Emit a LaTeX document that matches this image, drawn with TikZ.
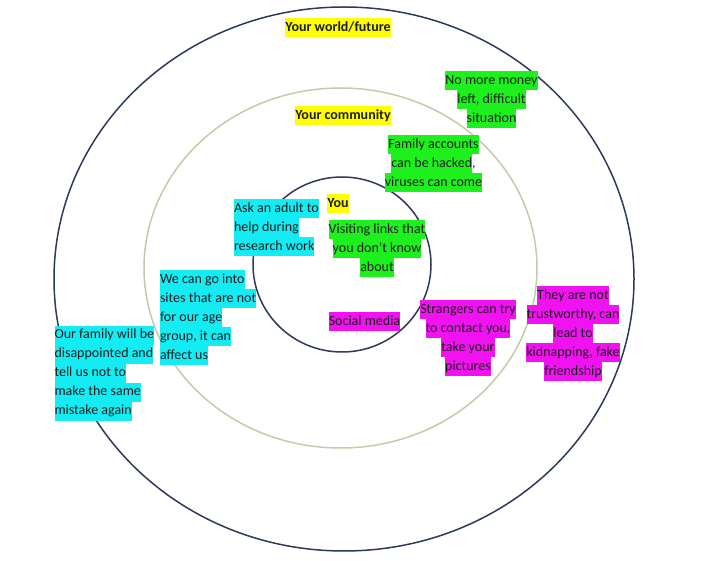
\documentclass[tikz,border=0pt]{standalone}
\usepackage{fontspec}
\setmainfont{Carlito}
\definecolor{hlyellow}{HTML}{FFFF00}
\definecolor{hlgreen}{HTML}{1EF01E}
\definecolor{hlcyan}{HTML}{14ECF4}
\definecolor{hlmag}{HTML}{F012F0}
\definecolor{navyline}{HTML}{2E3A5C}
\definecolor{sageline}{HTML}{C2CCA8}
\definecolor{txt}{HTML}{1E1E1E}
\newcommand\hlbox[2]{{\setlength{\fboxsep}{0pt}\colorbox{#1}{\strut #2}}}
\newcommand\Y[1]{\hlbox{hlyellow}{#1}}
\newcommand\G[1]{\hlbox{hlgreen}{#1}}
\newcommand\C[1]{\hlbox{hlcyan}{#1}}
\newcommand\M[1]{\hlbox{hlmag}{#1}}
\begin{document}
\begin{tikzpicture}[x=1pt,y=-1pt,
  ring/.style={line width=1.5pt},
  lbl/.style={inner sep=0pt, outer sep=0pt, text=txt, font=\fontsize{14}{19}\selectfont},
  ttl/.style={lbl, font=\fontsize{14}{19}\selectfont\bfseries},
  leftblk/.style={lbl, align=left, anchor=north west},
  midblk/.style={lbl, align=center, anchor=north}]
\useasboundingbox (0,0) rectangle (710,561);
\fill[white] (0,0) rectangle (710,561);
% rings
\draw[ring, navyline] (344,279) ellipse [x radius=290, y radius=272];
\draw[ring, sageline] (340.5,268) ellipse [x radius=196.5, y radius=180];
\draw[ring, navyline] (342,264.5) ellipse [x radius=89, y radius=87.5];
% titles
\node[ttl] (world) at (338,27.5) {\Y{Your world/future}};
\node[ttl] (community) at (343,116) {\Y{Your community}};
\node[ttl] (you) at (338,204) {\Y{You}};
% green
\node[midblk] (money) at (491.5,71) {\G{No more money}\\\G{left, difficult}\\\G{situation}};
\node[midblk] (family) at (433.5,135) {\G{Family accounts}\\\G{can be hacked},\\\G{viruses can come}};
\node[midblk] (links) at (377,220) {\G{Visiting links that}\\\G{you don’t know}\\\G{about}};
% cyan
\node[leftblk] (adult) at (234,199.5) {\C{Ask an adult to}\\\C{help during}\\\C{research work}};
\node[leftblk] (sites) at (160,270.5) {\C{We can go into}\\\C{sites that are not}\\\C{for our age}\\\C{group, it can}\\\C{affect us}};
\node[leftblk] (ourfam) at (54.5,325.5) {\C{Our family will be}\\\C{disappointed and}\\\C{tell us not to}\\\C{make the same}\\\C{mistake again}};
% magenta
\node[lbl] (social) at (364.5,322) {\M{Social media}};
\node[midblk] (strangers) at (468,300.5) {\M{Strangers can try}\\\M{to contact you,}\\\M{take your}\\\M{pictures}};
\node[midblk] (trust) at (573,286) {\M{They are not}\\\M{trustworthy, can}\\\M{lead to}\\\M{kidnapping, fake}\\\M{friendship}};
\end{tikzpicture}
\end{document}
